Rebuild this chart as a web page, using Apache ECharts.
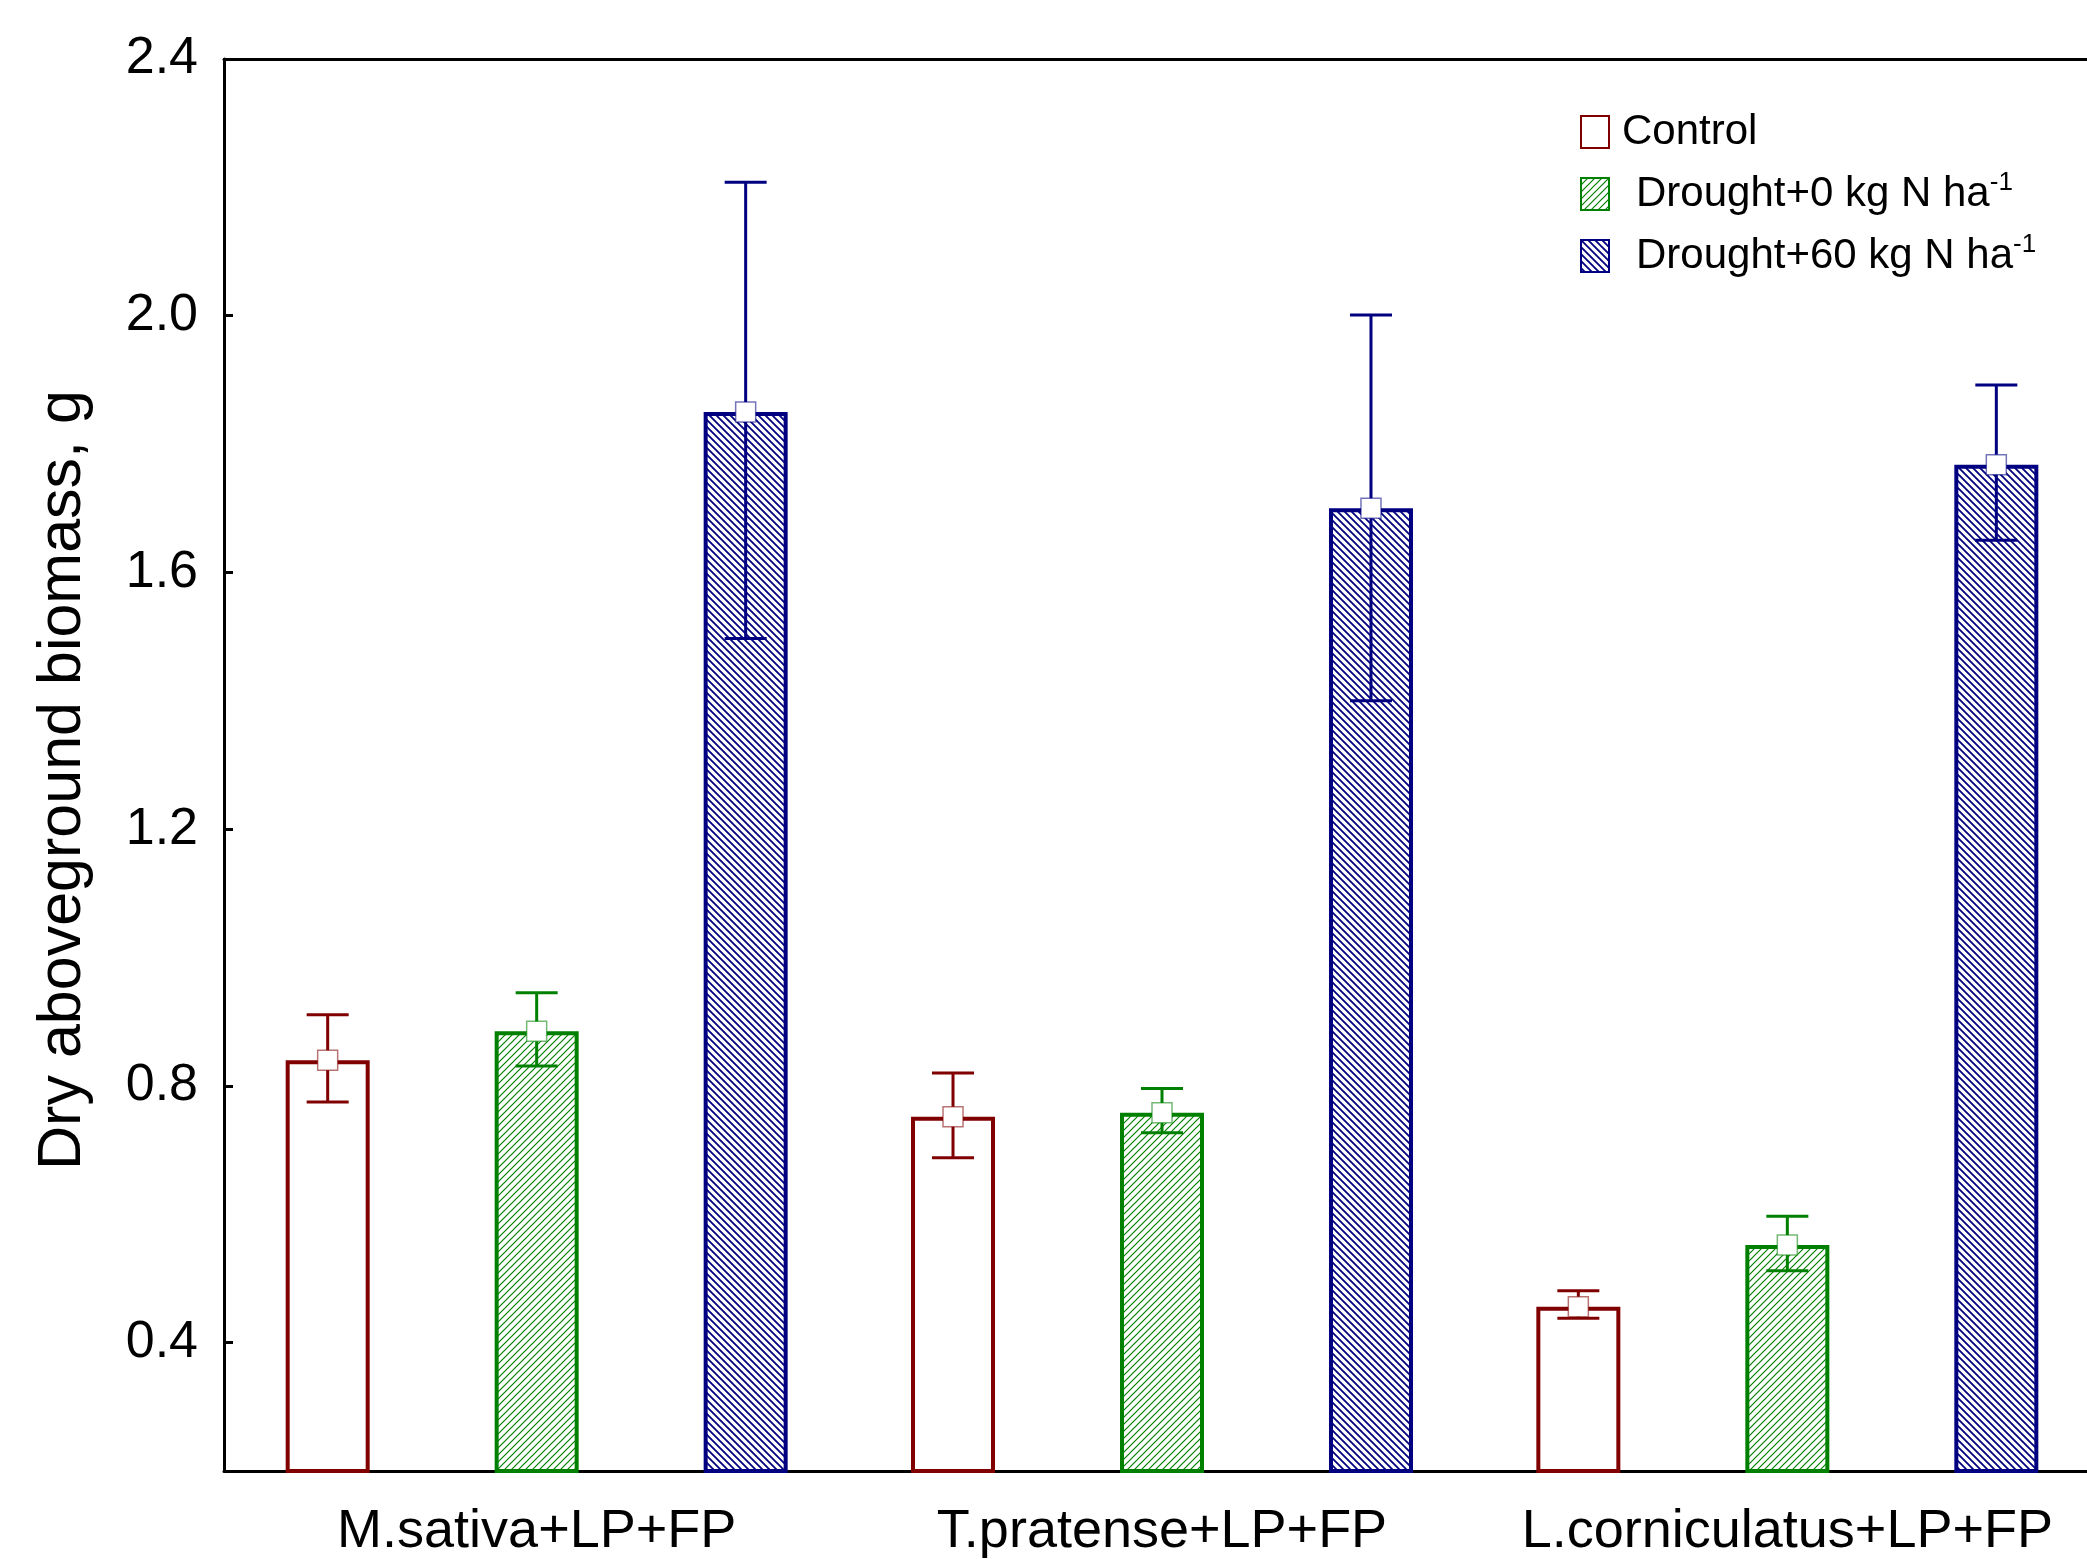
<!DOCTYPE html>
<html>
<head>
<meta charset="utf-8">
<script src="https://cdn.jsdelivr.net/npm/echarts@6/dist/echarts.min.js"></script>
<style>
html,body{margin:0;padding:0;background:#fff;overflow:hidden;}
#chart{width:2100px;height:1559px;}
</style>
</head>
<body>
<div id="chart"></div>
<script>
// ---- data ----
const categories = ['M.sativa+LP+FP', 'T.pratense+LP+FP', 'L.corniculatus+LP+FP'];
const seriesNames = ['Control', 'Drought+0 kg N ha-1', 'Drought+60 kg N ha-1'];
const controlMean = [0.84, 0.752, 0.456];
const controlLow  = [0.775, 0.688, 0.438];
const controlHigh = [0.911, 0.820, 0.481];
const drought0Mean = [0.885, 0.758, 0.552];
const drought0Low  = [0.831, 0.727, 0.512];
const drought0High = [0.945, 0.796, 0.597];
const drought60Mean = [1.850, 1.700, 1.768];
const drought60Low  = [1.497, 1.400, 1.650];
const drought60High = [2.208, 2.001, 1.892];
const yTickValues = [0.4, 0.8, 1.2, 1.6, 2.0, 2.4];

// ---- styles ----
const FONT = 'Liberation Sans, Arial, sans-serif';
const COLORS = ['#800000', '#008000', '#000080'];
const BAR_W = 84;
const GAP = 1.488; // barGap ratio
const OFFSETS = [-BAR_W * (1 + GAP), 0, BAR_W * (1 + GAP)];

function hatch(color, size, lw, dir) {
  const c = document.createElement('canvas');
  c.width = size; c.height = size;
  const g = c.getContext('2d');
  g.fillStyle = '#fff';
  g.fillRect(0, 0, size, size);
  g.strokeStyle = color;
  g.lineWidth = lw;
  g.beginPath();
  if (dir === '/') {
    g.moveTo(-1, size + 1); g.lineTo(size + 1, -1);
    g.moveTo(-1, 1); g.lineTo(1, -1);
    g.moveTo(size - 1, size + 1); g.lineTo(size + 1, size - 1);
  } else {
    g.moveTo(-1, -1); g.lineTo(size + 1, size + 1);
    g.moveTo(size - 1, -1); g.lineTo(size + 1, 1);
    g.moveTo(-1, size - 1); g.lineTo(1, size + 1);
  }
  g.stroke();
  return { image: c, repeat: 'repeat' };
}

const fills = [
  '#ffffff',
  hatch(COLORS[1], 7, 1.2, '/'),
  hatch(COLORS[2], 7, 1.8, '\\')
];

const means = [controlMean, drought0Mean, drought60Mean];
const lows = [controlLow, drought0Low, drought60Low];
const highs = [controlHigh, drought0High, drought60High];

const chart = echarts.init(document.getElementById('chart'));

const series = [];
seriesNames.forEach((name, i) => {
  series.push({
    name: name,
    type: 'bar',
    barWidth: BAR_W,
    barGap: (GAP * 100) + '%',
    data: means[i],
    itemStyle: { color: fills[i], borderColor: COLORS[i], borderWidth: 4 },
    emphasis: { disabled: true },
    z: 2
  });
});
seriesNames.forEach((name, i) => {
  series.push({
    name: name + ' err',
    type: 'custom',
    z: 5,
    data: categories.map((c, k) => [k, means[i][k], lows[i][k], highs[i][k]]),
    renderItem: function (params, api) {
      const k = api.value(0);
      const pm = api.coord([k, api.value(1)]);
      const pl = api.coord([k, api.value(2)]);
      const ph = api.coord([k, api.value(3)]);
      const x = pm[0] + OFFSETS[i];
      const cap = 21;
      const ls = { stroke: COLORS[i], lineWidth: 3 };
      const m = 10;
      return {
        type: 'group',
        children: [
          { type: 'line', shape: { x1: x, y1: ph[1], x2: x, y2: pl[1] }, style: ls },
          { type: 'line', shape: { x1: x - cap, y1: ph[1], x2: x + cap, y2: ph[1] }, style: ls },
          { type: 'line', shape: { x1: x - cap, y1: pl[1], x2: x + cap, y2: pl[1] }, style: ls },
          { type: 'rect', shape: { x: x - m, y: pm[1] - m, width: 2 * m, height: 2 * m },
            style: { fill: '#fff', stroke: COLORS[i], lineWidth: 1.5, strokeOpacity: 0.55 } }
        ]
      };
    }
  });
});

const option = {
  animation: false,
  backgroundColor: '#fff',
  textStyle: { fontFamily: FONT },
  grid: { left: 224, top: 59, bottom: 80, right: 0, containLabel: false },
  legend: {
    data: seriesNames.map((n, i) => ({
      name: n,
      textStyle: { padding: [0, 0, 0, i === 0 ? 8 : 22] }
    })),
    orient: 'vertical',
    left: 1575,
    top: 103,
    itemWidth: 28,
    itemHeight: 32,
    itemGap: 14,
    icon: 'rect',
    selectedMode: false,
    formatter: function (n) {
      return n.replace(' ha-1', ' ha{sup|-1}');
    },
    textStyle: {
      fontFamily: FONT, fontSize: 42, color: '#000', lineHeight: 48,
      rich: { sup: { fontFamily: FONT, fontSize: 26, lineHeight: 28, verticalAlign: 'top', color: '#000' } }
    }
  },
  xAxis: [
    {
      type: 'category', data: categories, position: 'bottom',
      axisLine: { lineStyle: { color: '#000', width: 3 } },
      axisTick: { inside: true, alignWithLabel: true, length: 10, lineStyle: { color: '#000', width: 3 } },
      axisLabel: { color: '#000', fontFamily: FONT, fontSize: 54, margin: 34, interval: 0, hideOverlap: false },
      splitLine: { show: false }
    },
    {
      type: 'category', data: categories, position: 'top',
      axisLine: { lineStyle: { color: '#000', width: 3 } },
      axisTick: { inside: true, alignWithLabel: true, length: 10, lineStyle: { color: '#000', width: 3 } },
      axisLabel: { show: false },
      splitLine: { show: false }
    }
  ],
  yAxis: {
    type: 'value', min: 0.2, max: 2.4, interval: 0.2,
    name: 'Dry aboveground biomass, g',
    nameLocation: 'middle',
    nameGap: 130,
    nameTextStyle: { fontFamily: FONT, fontSize: 61, color: '#000', padding: [0, 30, 0, 0] },
    axisLine: { show: true, lineStyle: { color: '#000', width: 3 } },
    axisTick: { show: true, inside: true, length: 9, customValues: yTickValues, lineStyle: { color: '#000', width: 3 } },
    axisLabel: { color: '#000', fontFamily: FONT, fontSize: 52, margin: 26, customValues: yTickValues,
      formatter: v => v.toFixed(1) },
    splitLine: { show: false }
  },
  series: series
};
chart.setOption(option);
</script>
</body>
</html>
